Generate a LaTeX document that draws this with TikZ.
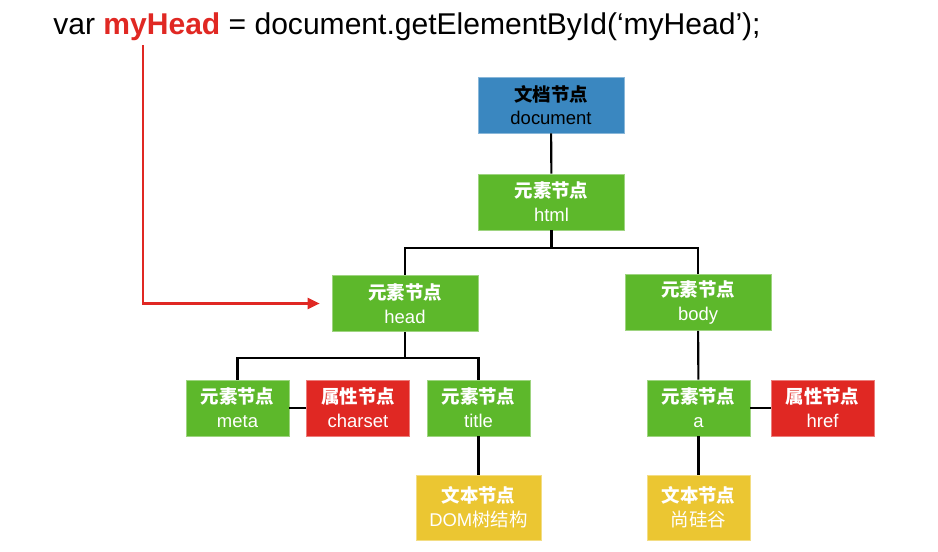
\documentclass[tikz,border=0pt]{standalone}
\usepackage{fontspec}
\setmainfont{Liberation Sans}
\newfontfamily\cjk{Noto Sans CJK SC}
\usetikzlibrary{arrows.meta}
\definecolor{docblue}{RGB}{58,135,192}
\definecolor{elemgreen}{RGB}{93,184,43}
\definecolor{attrred}{RGB}{224,40,35}
\definecolor{txtyellow}{RGB}{235,198,50}
\newcommand\lbl[2]{{\cjk\bfseries #1}\\#2}
\tikzset{
    >=Stealth,
    dom/.style={
        box/.append style={align=center,draw,thin,rectangle,text=white,minimum height=1.12cm,inner sep=0pt,font=\fontsize{10.5}{13.5}\selectfont},
        root/.append style={box,fill=docblue,draw=docblue!60!white,text=black,minimum width=2.92cm},
        elem/.append style={box,fill=elemgreen,draw=elemgreen!60!white,minimum width=2.92cm},
        leaf/.append style={box,fill=elemgreen,draw=elemgreen!60!white,minimum width=2.06cm},
        attr/.append style={box,fill=attrred,draw=attrred!60!white,minimum width=2.06cm},
        txt/.append style={box,fill=txtyellow,draw=txtyellow!60!white,minimum height=1.3cm},
        every edge/.append style={draw,very thick},
        pointer/.append style={draw=attrred,very thick,-{Triangle[length=0.24cm,width=0.22cm]},shorten >=0.24cm}
    }
}
\begin{document}
\begin{tikzpicture}[dom]
    \useasboundingbox (0,0) rectangle (18.76,-11.02);
    \node[anchor=base west,inner sep=0pt,font=\fontsize{17.1}{20}\selectfont] (code) at (1.06,-0.68)
        {var \textcolor{attrred}{\bfseries myHead} = document.getElementById(‘myHead’);};
    \coordinate (ptr) at (2.86,-0.9);

    \node[root] (doc) at (11.02,-2.10) {\lbl{文档节点}{document}};
    \node[elem] (html) at (11.03,-4.04) {\lbl{元素节点}{html}};
    \path (doc) edge (html);

        \node[elem] (head) at (8.10,-6.07) {\lbl{元素节点}{head}};
        \node[elem] (body) at (13.96,-6.05) {\lbl{元素节点}{body}};
        \draw[very thick] (html.south) -- ++(0,-0.36) -| (head.north);
        \draw[very thick] (html.south) -- ++(0,-0.36) -| (body.north);

        \node[leaf] (meta) at (4.75,-8.16) {\lbl{元素节点}{meta}};
        \node[attr] (charset) at (7.16,-8.16) {\lbl{属性节点}{charset}};
        \node[leaf] (title) at (9.57,-8.16) {\lbl{元素节点}{title}};
        \draw[very thick] (head.south) -- ++(0,-0.52) -| (meta.north);
        \draw[very thick] (head.south) -- ++(0,-0.52) -| (title.north);
        \path (meta) edge (charset);

        \node[leaf] (a) at (13.97,-8.16) {\lbl{元素节点}{a}};
        \node[attr] (href) at (16.45,-8.16) {\lbl{属性节点}{href}};
        \path (body) edge (a) (a) edge (href);

        \node[txt,minimum width=2.5cm] (dom) at (9.57,-10.15) {\lbl{文本节点}{DOM{\cjk 树结构}}};
        \node[txt,minimum width=2.06cm] (sgg) at (13.97,-10.15) {\lbl{文本节点}{{\cjk 尚硅谷}}};
        \path (title) edge (dom) (a) edge (sgg);

    \draw[pointer] (ptr) |- (head);
\end{tikzpicture}
\end{document}
